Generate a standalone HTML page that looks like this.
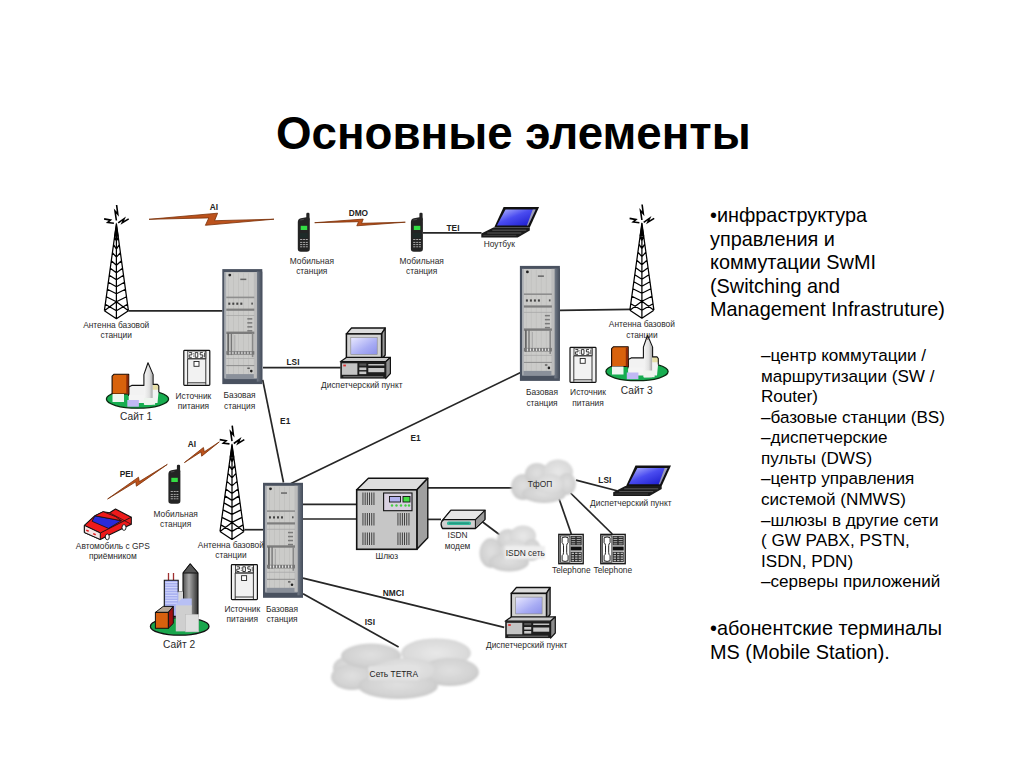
<!DOCTYPE html>
<html><head><meta charset="utf-8">
<style>
html,body{margin:0;padding:0;background:#fff;}
body{width:1024px;height:768px;position:relative;overflow:hidden;font-family:"Liberation Sans",sans-serif;color:#000;}
#title{position:absolute;left:276px;top:108px;font-size:45.7px;font-weight:bold;white-space:nowrap;line-height:52px;}
.t{position:absolute;white-space:nowrap;}
.b1{left:710px;font-size:19.85px;line-height:23.6px;}
.b2{left:761px;font-size:17.1px;line-height:20.56px;}
svg{position:absolute;left:0;top:0;}
svg text{font-family:"Liberation Sans",sans-serif;}
.lb{font-size:8.4px;fill:#2a2a2a;text-anchor:middle;}
.bl{font-size:8.3px;font-weight:bold;fill:#222;text-anchor:middle;}
.ln{stroke:#1e1e1e;stroke-width:1.6;fill:none;}
</style></head><body>
<div id="title">Основные элементы</div>
<div class="t b1" style="top:204px">•инфраструктура<br>управления и<br>коммутации SwMI<br>(Switching and<br>Management Infrastruture)</div>
<div class="t b2" style="top:346px">–центр коммутации /<br>маршрутизации (SW /<br>Router)<br>–базовые станции (BS)<br>–диспетчерские<br>пульты (DWS)<br>–центр управления<br>системой (NMWS)<br>–шлюзы в другие сети<br>( GW PABX, PSTN,<br>ISDN, PDN)<br>–серверы приложений</div>
<div class="t b1" style="top:617px">•абонентские терминалы<br>MS (Mobile Station).</div>
<svg width="1024" height="768" viewBox="0 0 1024 768">
<defs>
<linearGradient id="gBlue" x1="0" y1="0" x2="1" y2="1">
  <stop offset="0" stop-color="#b8bcff"/><stop offset="0.45" stop-color="#4a4cf0"/><stop offset="1" stop-color="#1515c8"/>
</linearGradient>
<linearGradient id="gScr" x1="0" y1="0" x2="1" y2="1">
  <stop offset="0" stop-color="#e8e8ff"/><stop offset="0.6" stop-color="#a8acf4"/><stop offset="1" stop-color="#8c90ea"/>
</linearGradient>
<linearGradient id="gSpire" x1="0" y1="0" x2="1" y2="0">
  <stop offset="0" stop-color="#f4f4f4"/><stop offset="0.6" stop-color="#e0e0e0"/><stop offset="1" stop-color="#a8a8a8"/>
</linearGradient>
<linearGradient id="gDark" x1="0" y1="0" x2="1" y2="0">
  <stop offset="0" stop-color="#505050"/><stop offset="0.4" stop-color="#a8a8a8"/><stop offset="1" stop-color="#303030"/>
</linearGradient>
<linearGradient id="gRackR" x1="0" y1="0" x2="1" y2="0">
  <stop offset="0" stop-color="#747c88"/><stop offset="1" stop-color="#444c5a"/>
</linearGradient>
<radialGradient id="gCloud" cx="0.45" cy="0.35" r="0.7">
  <stop offset="0" stop-color="#ececec"/><stop offset="0.6" stop-color="#cfcfcf"/><stop offset="1" stop-color="#b4b4b4"/>
</radialGradient>
<radialGradient id="gC1" cx="0.5" cy="0.45" r="0.55">
  <stop offset="0" stop-color="#e0e0e0"/><stop offset="0.75" stop-color="#d2d2d2"/><stop offset="1" stop-color="#c8c8c8"/>
</radialGradient>
<radialGradient id="gC2" cx="0.5" cy="0.5" r="0.55">
  <stop offset="0" stop-color="#e8e8e8"/><stop offset="0.8" stop-color="#dadada"/><stop offset="1" stop-color="#d0d0d0"/>
</radialGradient>
<filter id="blur1" x="-10%" y="-10%" width="120%" height="120%"><feGaussianBlur stdDeviation="1.1"/></filter>
<filter id="blur05" x="-10%" y="-10%" width="120%" height="120%"><feGaussianBlur stdDeviation="0.45"/></filter>
<g id="tower"><path d="M0,-1.5 L-2.4,13 L2.4,13 Z" fill="#000"/><path d="M0,0 L-12,87 M0,0 L12,87 M0,0 L0,95 M-12,87 L0,95 L12,87 M-1.79,13 L0,17.5 L1.79,13 M-2.90,21 L0,25.5 L2.90,21 M-4.00,29 L0,33.5 L4.00,29 M-5.10,37 L0,41.5 L5.10,37 M-6.14,44.5 L0,49.0 L6.14,44.5 M-7.10,51.5 L0,56.0 L7.10,51.5 M-8.07,58.5 L0,63.0 L8.07,58.5 M-9.03,65.5 L0,70.0 L9.03,65.5 M-10.07,73 L0,78 L12,87 M10.07,73 L0,78 L-12,87 M-11.10,80.5 L0,87 L11.10,80.5 " stroke="#000" stroke-width="1.25" fill="none" stroke-linejoin="round"/><path d="M0.2,-18.7 L1.4,-9.5 L-1.4,-12.7 L0,-3.2 M-12.3,-4.8 L-5.9,-3.6 L-8.7,-1.2 L-2.5,-0.5 M1.8,-0.9 L7.7,-5 L5.9,-0.9 L12.3,-4.8" stroke="#000" stroke-width="1.6" fill="none" stroke-linejoin="miter"/></g>
<g id="rack"><rect x="0" y="0" width="40" height="115" fill="#4a5260"/><rect x="34.5" y="2.5" width="5.5" height="110" fill="url(#gRackR)"/><rect x="2.2" y="3" width="32.3" height="106" fill="#cbcbc9"/><rect x="6" y="4" width="0.6" height="104" fill="#bdbdbb"/><rect x="11" y="4" width="0.6" height="104" fill="#bdbdbb"/><rect x="16" y="4" width="0.6" height="104" fill="#bdbdbb"/><rect x="21" y="4" width="0.6" height="104" fill="#bdbdbb"/><rect x="26" y="4" width="0.6" height="104" fill="#bdbdbb"/><rect x="2.2" y="105" width="32.3" height="5" fill="#8a909a"/><rect x="2.2" y="3" width="1.6" height="106" fill="#a8acb2"/><rect x="31.5" y="3" width="3" height="106" fill="#bcbcbc"/><circle cx="7.5" cy="6" r="1.4" fill="#222"/><rect x="18" y="9.5" width="6" height="1.5" fill="#666"/><rect x="4" y="27.5" width="28" height="1.6" fill="#8e8e8e"/><rect x="6" y="33.5" width="2" height="2.2" fill="#444"/><rect x="10" y="33.5" width="2" height="2.2" fill="#444"/><rect x="14" y="33.5" width="2" height="2.2" fill="#444"/><rect x="18" y="33.5" width="2" height="2.2" fill="#444"/><rect x="29" y="33.5" width="1.6" height="2" fill="#555"/><rect x="4" y="39.5" width="28" height="2.2" fill="#7e7e7e"/><rect x="4" y="46" width="28" height="0.8" fill="#a8a8a8"/><rect x="25" y="49" width="5" height="1.5" fill="#7a7a7a"/><rect x="25" y="53" width="5" height="1.5" fill="#7a7a7a"/><rect x="25" y="57" width="5" height="1.5" fill="#7a7a7a"/><rect x="25" y="61" width="5" height="1.5" fill="#7a7a7a"/><rect x="4" y="62.5" width="28" height="2.4" fill="#7c7c7c"/><rect x="5" y="64" width="1.8" height="22" fill="#666"/><rect x="8.4" y="64" width="1.4" height="22" fill="#777"/><rect x="12" y="66" width="1" height="16" fill="#aaa"/><rect x="29.5" y="64" width="1.6" height="24" fill="#888"/><rect x="4" y="82" width="28" height="3.6" fill="#777"/><rect x="7" y="82.6" width="1.2" height="2.4" fill="#e4e4e4"/><rect x="10" y="82.6" width="1.2" height="2.4" fill="#e4e4e4"/><rect x="13" y="82.6" width="1.2" height="2.4" fill="#e4e4e4"/><rect x="16" y="82.6" width="1.2" height="2.4" fill="#e4e4e4"/><rect x="19" y="82.6" width="1.2" height="2.4" fill="#e4e4e4"/><rect x="22" y="82.6" width="1.2" height="2.4" fill="#e4e4e4"/><rect x="25" y="82.6" width="1.2" height="2.4" fill="#e4e4e4"/><rect x="28" y="82.6" width="1.2" height="2.4" fill="#e4e4e4"/><rect x="4" y="89" width="28" height="0.8" fill="#aaa"/><rect x="4" y="96" width="28" height="1" fill="#8c8c8c"/><circle cx="29" cy="102" r="1.3" fill="#222"/><rect x="25" y="98.5" width="2.5" height="1.2" fill="#444"/></g>
<g id="psu"><rect x="0.6" y="0.6" width="26" height="35" fill="#f2f2f2" stroke="#111" stroke-width="1.2" rx="0.8"/><path d="M4.4,9 L4.4,35 M22.6,0.6 L22.6,35 M4.4,33 L22.6,33" stroke="#222" stroke-width="0.9" fill="none"/><rect x="4.6" y="1.2" width="18" height="7.6" fill="#fff" stroke="#222" stroke-width="0.8"/><path d="M6,2.8 h2.6 v2.3 h-2.6 v2.4 h2.6 M12,2.8 h2.6 v4.7 h-2.6 z M19.6,2.8 h-2.6 v2.3 h2.6 v2.4 h-2.6" stroke="#222" stroke-width="0.9" fill="none"/><rect x="10" y="3.6" width="0.9" height="0.9" fill="#222"/><rect x="10" y="5.8" width="0.9" height="0.9" fill="#222"/><rect x="21" y="2.8" width="0.8" height="4.7" fill="#333"/><path d="M4.4,9.2 L22.6,9.2" stroke="#444" stroke-width="1"/><rect x="10.8" y="11.7" width="5" height="4.8" fill="#fff" stroke="#222" stroke-width="0.9"/></g>
<g id="phone"><rect x="8.5" y="-4.3" width="3.2" height="8" rx="1.2" fill="#222"/><path d="M0,5 Q0,2 3,1.2 L10,0 Q12,0 12,3 L12,32 Q12,34.8 9,34.8 L3,34.8 Q0,34.8 0,32 Z" fill="#242424"/><path d="M2.5,3 L6,2.4" stroke="#555" stroke-width="0.8"/><rect x="2.9" y="8.8" width="6.5" height="4.2" fill="#33dd44"/><rect x="2" y="16" width="8" height="5" fill="#1e2a28"/><path d="M2.3,22.5 h2.2 M5.3,22.5 h2 M8,22.5 h2" stroke="#b8b8b8" stroke-width="0.9"/><path d="M2.3,25.4 h2.2 M5.3,25.4 h2 M8,25.4 h2" stroke="#b8b8b8" stroke-width="0.9"/><path d="M2.3,27.6 h2.2 M5.3,27.6 h2 M8,27.6 h2" stroke="#b8b8b8" stroke-width="0.9"/><path d="M2.3,29.8 h2.2 M5.3,29.8 h2 M8,29.8 h2" stroke="#b8b8b8" stroke-width="0.9"/></g>
<g id="laptop"><path d="M22.3,0 L57.8,0 L48.5,20.4 L12.9,20.4 Z" fill="#111"/><path d="M24.2,2.4 L54.3,2.4 L46.8,18.6 L15.6,18.6 Z" fill="url(#gBlue)"/><path d="M51.5,2.4 L54.3,2.4 L46.8,18.6 L45.6,18.6 Z" fill="#c8c8a0" opacity="0.7"/><path d="M12.1,20.4 L48.5,20.4 L48.5,23.5 L36.4,30.5 L0,30.5 L0,26.6 Z" fill="#1a1a1a"/><path d="M11,23.2 L45,23.2 M6,26 L40,26" stroke="#777" stroke-width="0.7"/><path d="M2,28.4 L35,28.4" stroke="#555" stroke-width="0.6"/></g>
<g id="comp"><path d="M6.1,5.9 L11.2,0 L44.9,0 L41.3,5.9 Z" fill="#dcdcdc" stroke="#111" stroke-width="1.3" stroke-linejoin="round"/><path d="M41.3,5.9 L44.9,0 L44.9,27 L41.3,31.5 Z" fill="#9a9a9a" stroke="#111" stroke-width="1.3" stroke-linejoin="round"/><rect x="6.1" y="5.9" width="35.2" height="25.6" fill="#d2d2d2" stroke="#111" stroke-width="1.5"/><rect x="10.5" y="9.6" width="26.4" height="16.8" fill="url(#gScr)" stroke="#888" stroke-width="0.6"/><path d="M0,33.7 L6.1,29.4 L50.1,29.4 L45.4,33.7 Z" fill="#c8c8c8" stroke="#111" stroke-width="1.2" stroke-linejoin="round"/><path d="M45.4,33.7 L50.1,29.4 L50.1,45.5 L45.4,50.6 Z" fill="#8c8c8c" stroke="#111" stroke-width="1.2" stroke-linejoin="round"/><rect x="0" y="33.7" width="45.4" height="16.9" fill="#1e1e1e"/><rect x="1.6" y="35.3" width="15.5" height="11.5" fill="#c4c4c4"/><rect x="3" y="36.6" width="2.6" height="1.8" fill="#e03030"/><rect x="19" y="35.5" width="7" height="2.2" fill="#555"/><rect x="19" y="39.5" width="7" height="2.6" fill="#c8c8c8"/><rect x="19" y="43.5" width="7" height="2.6" fill="#c8c8c8"/><rect x="28" y="36" width="16" height="1.5" fill="#c0c0c0"/><rect x="28" y="40" width="16" height="4.2" fill="#c8c8c8"/><rect x="3" y="48.2" width="40" height="1" fill="#777"/></g>
<g id="site"><ellipse cx="0" cy="-0.9" rx="31.1" ry="9.1" fill="#17ad50" stroke="#0a2a10" stroke-width="1.3"/><path d="M-8.8,-13 L-5.8,-14.6 L6.4,-14.6 L6.4,-25.4 L15.6,-25.4 L15.6,-15.6 L20,-15.6 L21.3,-14 L21.3,-10.2 L20,3 L-8.8,3 Z" fill="#f2f2f2"/><path d="M15.3,-15.6 L20,-15.6 L21.3,-14 L21.3,-10.2 L15.3,-10.2 Z" fill="#e6dea6"/><path d="M6.9,-25 L10.5,-36 L15.1,-25 L15.1,5 L6.9,5 Z" fill="url(#gSpire)"/><path d="M-8.8,-4 L-8.8,-13 L-5.8,-14.6 L6.4,-14.6 L6.4,-25.4 L10.5,-37.3 L15.6,-25.4 L15.6,-15.6 L20,-15.6 L21.3,-14 L21.3,-8" fill="none" stroke="#111" stroke-width="1.1" stroke-linejoin="round"/><path d="M-25.4,-6 L-25.4,-23.8 L-23.4,-25.8 L-8.8,-25.8 L-8.8,-6 Z" fill="#d8620c" stroke="#1a0a00" stroke-width="1.1" stroke-linejoin="round"/><rect x="-11.2" y="-25" width="2.2" height="19" fill="#8c2a08"/><rect x="-25" y="-6" width="11.5" height="8" fill="#eef6f0"/><rect x="-8.5" y="-5" width="15" height="5" fill="#f4f4f4"/><rect x="-10.2" y="0" width="11.6" height="6.7" fill="#c0b8f4"/><rect x="6.4" y="-2" width="11.2" height="6.7" fill="#eef4ee"/></g>
</defs>
<polyline points="128.5,310.8 222.5,310.8" fill="none" stroke="#262626" stroke-width="1.7"/>
<polyline points="263,367.6 340.5,367.6" fill="none" stroke="#262626" stroke-width="1.7"/>
<polyline points="262.7,379.8 283.5,482.5" fill="none" stroke="#262626" stroke-width="1.7"/>
<polyline points="291,483.5 523.7,371" fill="none" stroke="#262626" stroke-width="1.7"/>
<polyline points="560,310.4 630.5,309.4" fill="none" stroke="#262626" stroke-width="1.7"/>
<polyline points="423,232.8 481.5,232.8" fill="none" stroke="#262626" stroke-width="1.7"/>
<polyline points="244.5,529.7 263.5,529.7" fill="none" stroke="#262626" stroke-width="1.7"/>
<polyline points="303,504.3 357,504.3" fill="none" stroke="#262626" stroke-width="1.7"/>
<polyline points="303,519 357,519" fill="none" stroke="#262626" stroke-width="1.7"/>
<polyline points="428,487.8 515,487.8" fill="none" stroke="#262626" stroke-width="1.7"/>
<polyline points="428,519.4 441,519.4" fill="none" stroke="#262626" stroke-width="1.7"/>
<polyline points="480,520 500,535" fill="none" stroke="#262626" stroke-width="1.7"/>
<polyline points="303,578.2 504.2,627.3" fill="none" stroke="#262626" stroke-width="1.7"/>
<polyline points="303,593.8 398.6,647.1" fill="none" stroke="#262626" stroke-width="1.7"/>
<polyline points="576,480.1 617,490.8" fill="none" stroke="#262626" stroke-width="1.7"/>
<polyline points="559,498.6 571.3,534" fill="none" stroke="#262626" stroke-width="1.7"/>
<polyline points="570.5,493 612.3,534" fill="none" stroke="#262626" stroke-width="1.7"/>
<use href="#tower" x="116.4" y="223.7"/>
<use href="#tower" x="641.9" y="223.2"/>
<use href="#tower" x="232" y="444.4"/>
<use href="#rack" x="222.3" y="269.1"/>
<use href="#rack" x="519.9" y="265.9"/>
<use href="#rack" x="263" y="482.8"/>
<use href="#psu" x="183.2" y="349.8"/>
<use href="#psu" x="569.4" y="346.8"/>
<use href="#psu" x="230.8" y="564"/>
<use href="#phone" x="297.8" y="217"/>
<use href="#phone" x="410.9" y="217"/>
<use href="#phone" x="168.4" y="469"/>
<use href="#laptop" x="481.3" y="207"/>
<use href="#laptop" x="613.2" y="465.6"/>
<use href="#comp" x="340.3" y="328"/>
<use href="#comp" x="505.2" y="587.5"/>
<use href="#site" x="137.5" y="400"/>
<use href="#site" x="637" y="372.5"/>
<polygon points="149.0,219.3 217.6,213.2 214.6,220.7 274.0,219.2 205.4,225.3 208.8,217.9" fill="#bc521c" stroke="#7a3008" stroke-width="0.8" stroke-linejoin="round"/>
<polygon points="314.7,222.7 363.2,219.1 361.6,223.3 405.3,222.2 356.8,225.8 358.6,221.7" fill="#bc521c" stroke="#7a3008" stroke-width="0.8" stroke-linejoin="round"/>
<polygon points="107.6,499.0 138.5,477.2 139.3,481.6 167.3,464.4 136.4,486.2 135.8,481.8" fill="#bc521c" stroke="#7a3008" stroke-width="0.8" stroke-linejoin="round"/>
<polygon points="184.4,462.6 203.4,447.5 204.3,451.8 219.3,441.9 201.7,456.2 201.0,451.9" fill="#bc521c" stroke="#7a3008" stroke-width="0.8" stroke-linejoin="round"/>
<text class="lb" x="116.2" y="328.0">Антенна базовой</text>
<text class="lb" x="116.2" y="338.2">станции</text>
<text class="lb" x="641.9" y="327.4">Антенна базовой</text>
<text class="lb" x="641.9" y="337.6">станции</text>
<text class="lb" x="230.9" y="547.7">Антенна базовой</text>
<text class="lb" x="230.9" y="557.9">станции</text>
<text class="lb" x="311.8" y="263.9">Мобильная</text>
<text class="lb" x="311.8" y="274.1">станция</text>
<text class="lb" x="421.7" y="264.0">Мобильная</text>
<text class="lb" x="421.7" y="274.2">станция</text>
<text class="lb" x="175.7" y="516.8">Мобильная</text>
<text class="lb" x="175.7" y="527.0">станция</text>
<text class="lb" x="499.3" y="247.1">Ноутбук</text>
<text class="lb" x="239.6" y="398.4">Базовая</text>
<text class="lb" x="239.6" y="408.6">станция</text>
<text class="lb" x="542" y="395.3">Базовая</text>
<text class="lb" x="542" y="405.5">станция</text>
<text class="lb" x="282" y="612.0">Базовая</text>
<text class="lb" x="282" y="622.2">станция</text>
<text class="lb" x="193.4" y="398.6">Источник</text>
<text class="lb" x="193.4" y="408.8">питания</text>
<text class="lb" x="588" y="395.4">Источник</text>
<text class="lb" x="588" y="405.6">питания</text>
<text class="lb" x="242.3" y="612.2">Источник</text>
<text class="lb" x="242.3" y="622.4">питания</text>
<text class="lb" x="361.8" y="388.2">Диспетчерский пункт</text>
<text class="lb" x="630.8" y="505.5">Диспетчерский пункт</text>
<text class="lb" x="526.7" y="647.5">Диспетчерский пункт</text>
<text class="lb" x="112.8" y="548.7">Автомобиль с GPS</text>
<text class="lb" x="112.8" y="558.9">приёмником</text>
<text class="lb" x="136.1" y="420.2" style="font-size:10.2px">Сайт 1</text>
<text class="lb" x="636.8" y="393.8" style="font-size:10.2px">Сайт 3</text>
<text class="lb" x="179.1" y="647.7" style="font-size:10.2px">Сайт 2</text>
<text class="lb" x="386.8" y="558.5">Шлюз</text>
<text class="lb" x="457.6" y="537.6">ISDN</text>
<text class="lb" x="457.6" y="548.6">модем</text>
<text class="lb" x="571.3" y="573.3">Telephone</text>
<text class="lb" x="612.8" y="573.3">Telephone</text>
<text class="bl" x="214" y="209.8">AI</text>
<text class="bl" x="358.4" y="215.5">DMO</text>
<text class="bl" x="453" y="230.8">TEI</text>
<text class="bl" x="293" y="364.5">LSI</text>
<text class="bl" x="285.2" y="423.8">E1</text>
<text class="bl" x="415.6" y="441.4">E1</text>
<text class="bl" x="126.4" y="477.0">PEI</text>
<text class="bl" x="192" y="447.4">AI</text>
<text class="bl" x="604.8" y="482.7">LSI</text>
<text class="bl" x="393.4" y="596.0">NMCI</text>
<text class="bl" x="369.9" y="625.3">ISI</text>
<g filter="url(#blur1)">
<ellipse cx="523" cy="487" rx="12" ry="13" fill="url(#gC1)"/>
<ellipse cx="537" cy="474" rx="12" ry="11" fill="url(#gC1)"/>
<ellipse cx="558" cy="472" rx="15" ry="12.5" fill="url(#gC2)"/>
<ellipse cx="567" cy="484" rx="9" ry="11" fill="url(#gC1)"/>
<ellipse cx="544" cy="494" rx="22" ry="9" fill="url(#gC1)"/>
<ellipse cx="550" cy="484" rx="14" ry="10" fill="url(#gC2)"/>
</g>
<g filter="url(#blur1)">
<ellipse cx="491" cy="553" rx="11.5" ry="15" fill="url(#gC1)"/>
<ellipse cx="508" cy="539" rx="11" ry="10" fill="url(#gC1)"/>
<ellipse cx="523" cy="536" rx="13" ry="10.5" fill="url(#gC2)"/>
<ellipse cx="532" cy="550" rx="9" ry="11" fill="url(#gC1)"/>
<ellipse cx="509" cy="562" rx="20" ry="9.5" fill="url(#gC1)"/>
<ellipse cx="515" cy="550" rx="14" ry="10" fill="url(#gC2)"/>
</g>
<g filter="url(#blur1)">
<ellipse cx="347" cy="668" rx="14" ry="11" fill="url(#gC1)"/>
<ellipse cx="352" cy="677" rx="21" ry="13" fill="url(#gC1)"/>
<ellipse cx="371" cy="656" rx="30" ry="12.5" fill="url(#gC1)"/>
<ellipse cx="436" cy="653" rx="35" ry="14.5" fill="url(#gC2)"/>
<ellipse cx="450" cy="672" rx="29" ry="14" fill="url(#gC1)"/>
<ellipse cx="398" cy="686" rx="40" ry="13" fill="url(#gC1)"/>
<ellipse cx="405" cy="670" rx="32" ry="12" fill="url(#gC2)"/>
</g>
<path d="M356.7,489.8 L368.4,478.2 L427.8,478.2 L416.9,489.8 Z" fill="#dedede" stroke="#111" stroke-width="1.4" stroke-linejoin="round"/>
<path d="M416.9,489.8 L427.8,478.2 L427.8,537.7 L416.9,549.3 Z" fill="#a0a0a0" stroke="#111" stroke-width="1.4" stroke-linejoin="round"/>
<rect x="356.7" y="489.8" width="60.2" height="59.5" fill="#c6c6c6" stroke="#111" stroke-width="1.6"/>
<rect x="362.5" y="492.5" width="0.9" height="12.5" fill="#333"/>
<rect x="364.7" y="492.5" width="0.9" height="12.5" fill="#333"/>
<rect x="366.9" y="492.5" width="0.9" height="12.5" fill="#333"/>
<rect x="369.1" y="492.5" width="0.9" height="12.5" fill="#333"/>
<rect x="371.3" y="492.5" width="0.9" height="12.5" fill="#333"/>
<rect x="373.5" y="492.5" width="0.9" height="12.5" fill="#333"/>
<rect x="362.5" y="513" width="0.9" height="12.5" fill="#333"/>
<rect x="364.7" y="513" width="0.9" height="12.5" fill="#333"/>
<rect x="366.9" y="513" width="0.9" height="12.5" fill="#333"/>
<rect x="369.1" y="513" width="0.9" height="12.5" fill="#333"/>
<rect x="371.3" y="513" width="0.9" height="12.5" fill="#333"/>
<rect x="373.5" y="513" width="0.9" height="12.5" fill="#333"/>
<rect x="362.5" y="532.5" width="0.9" height="12.5" fill="#333"/>
<rect x="364.7" y="532.5" width="0.9" height="12.5" fill="#333"/>
<rect x="366.9" y="532.5" width="0.9" height="12.5" fill="#333"/>
<rect x="369.1" y="532.5" width="0.9" height="12.5" fill="#333"/>
<rect x="371.3" y="532.5" width="0.9" height="12.5" fill="#333"/>
<rect x="373.5" y="532.5" width="0.9" height="12.5" fill="#333"/>
<rect x="397.5" y="513" width="0.9" height="12.5" fill="#333"/>
<rect x="399.7" y="513" width="0.9" height="12.5" fill="#333"/>
<rect x="401.9" y="513" width="0.9" height="12.5" fill="#333"/>
<rect x="404.1" y="513" width="0.9" height="12.5" fill="#333"/>
<rect x="406.3" y="513" width="0.9" height="12.5" fill="#333"/>
<rect x="408.5" y="513" width="0.9" height="12.5" fill="#333"/>
<rect x="397.5" y="532.5" width="0.9" height="12.5" fill="#333"/>
<rect x="399.7" y="532.5" width="0.9" height="12.5" fill="#333"/>
<rect x="401.9" y="532.5" width="0.9" height="12.5" fill="#333"/>
<rect x="404.1" y="532.5" width="0.9" height="12.5" fill="#333"/>
<rect x="406.3" y="532.5" width="0.9" height="12.5" fill="#333"/>
<rect x="408.5" y="532.5" width="0.9" height="12.5" fill="#333"/>
<rect x="383.6" y="493" width="28.4" height="17.7" fill="#d8d0e0" stroke="#111" stroke-width="1.1"/>
<rect x="389.5" y="496.5" width="11" height="5.5" fill="#b0b0ee" stroke="#111" stroke-width="0.9"/>
<rect x="403" y="496.5" width="7" height="5.5" fill="#44dd44" stroke="#111" stroke-width="0.9"/>
<circle cx="392.0" cy="505.5" r="1.2" fill="#44cc44"/>
<circle cx="396.5" cy="505.5" r="1.2" fill="#44cc44"/>
<circle cx="401.0" cy="505.5" r="1.2" fill="#44cc44"/>
<circle cx="405.5" cy="505.5" r="1.2" fill="#44cc44"/>
<circle cx="409" cy="505.5" r="1.2" fill="#44cc44"/>
<path d="M442.5,528.5 L475.4,528.5 L484.9,519.6 L484.9,510.3 L450.8,510.3 L442,521 Q440,524 442.5,528.5 Z" fill="#d0d0d0" stroke="#111" stroke-width="1.3" stroke-linejoin="round"/>
<path d="M475.4,528.5 L484.9,519.6 L484.9,510.3 L475.4,519.6 Z" fill="#999" stroke="#111" stroke-width="1"/>
<path d="M442,521 L450.8,510.3 L484.9,510.3 L475.4,519.6 L444,519.6 Z" fill="#e6e6e6" stroke="#111" stroke-width="1.1"/>
<rect x="447" y="521.5" width="24" height="3.5" rx="1.5" fill="#2fb89a"/>
<path d="M449,523.2 h20" stroke="#1a7a66" stroke-width="0.7"/>
<rect x="558.1" y="533.7" width="25.8" height="30.7" fill="#1c1c1c"/>
<rect x="559.5" y="535.1" width="23" height="27.9" fill="#f0f0f0"/>
<rect x="560.3000000000001" y="535.9000000000001" width="9.6" height="26.3" fill="#fff" stroke="#222" stroke-width="0.9"/>
<path d="M562.1,537.7 Q565.1,536.2 568.1,537.7 L568.1,542.7 Q566.7,543.7 566.7,545.7 L566.7,552.7 Q566.7,554.7 568.1,555.7 L568.1,560.7 Q565.1,562.2 562.1,560.7 L562.1,555.7 Q563.5,554.7 563.5,552.7 L563.5,545.7 Q563.5,543.7 562.1,542.7 Z" fill="#fff" stroke="#222" stroke-width="1"/>
<rect x="570.7" y="535.9000000000001" width="11" height="9.5" fill="#2a2a2a"/>
<path d="M571.5,537.3000000000001 h3.8 M576.7,537.3000000000001 h4" stroke="#aaa" stroke-width="1"/>
<path d="M571.5,539.5000000000001 h3.8 M576.7,539.5000000000001 h4" stroke="#aaa" stroke-width="1"/>
<path d="M571.5,541.7 h3.8 M576.7,541.7 h4" stroke="#aaa" stroke-width="1"/>
<path d="M571.5,543.9000000000001 h3.8 M576.7,543.9000000000001 h4" stroke="#aaa" stroke-width="1"/>
<rect x="570.7" y="546.5" width="11" height="4" fill="#111"/>
<rect x="570.7" y="551.7" width="11" height="10.5" fill="#2a2a2a"/>
<rect x="571.6" y="552.7" width="2.4" height="1.3" fill="#bbb"/>
<rect x="575.1" y="552.7" width="2.4" height="1.3" fill="#bbb"/>
<rect x="578.6" y="552.7" width="2.4" height="1.3" fill="#bbb"/>
<rect x="571.6" y="555.1" width="2.4" height="1.3" fill="#bbb"/>
<rect x="575.1" y="555.1" width="2.4" height="1.3" fill="#bbb"/>
<rect x="578.6" y="555.1" width="2.4" height="1.3" fill="#bbb"/>
<rect x="571.6" y="557.5" width="2.4" height="1.3" fill="#bbb"/>
<rect x="575.1" y="557.5" width="2.4" height="1.3" fill="#bbb"/>
<rect x="578.6" y="557.5" width="2.4" height="1.3" fill="#bbb"/>
<rect x="571.6" y="559.9" width="2.4" height="1.3" fill="#bbb"/>
<rect x="575.1" y="559.9" width="2.4" height="1.3" fill="#bbb"/>
<rect x="578.6" y="559.9" width="2.4" height="1.3" fill="#bbb"/>
<rect x="600.1" y="533.7" width="25.8" height="30.7" fill="#1c1c1c"/>
<rect x="601.5" y="535.1" width="23" height="27.9" fill="#f0f0f0"/>
<rect x="602.3000000000001" y="535.9000000000001" width="9.6" height="26.3" fill="#fff" stroke="#222" stroke-width="0.9"/>
<path d="M604.1,537.7 Q607.1,536.2 610.1,537.7 L610.1,542.7 Q608.7,543.7 608.7,545.7 L608.7,552.7 Q608.7,554.7 610.1,555.7 L610.1,560.7 Q607.1,562.2 604.1,560.7 L604.1,555.7 Q605.5,554.7 605.5,552.7 L605.5,545.7 Q605.5,543.7 604.1,542.7 Z" fill="#fff" stroke="#222" stroke-width="1"/>
<rect x="612.7" y="535.9000000000001" width="11" height="9.5" fill="#2a2a2a"/>
<path d="M613.5,537.3000000000001 h3.8 M618.7,537.3000000000001 h4" stroke="#aaa" stroke-width="1"/>
<path d="M613.5,539.5000000000001 h3.8 M618.7,539.5000000000001 h4" stroke="#aaa" stroke-width="1"/>
<path d="M613.5,541.7 h3.8 M618.7,541.7 h4" stroke="#aaa" stroke-width="1"/>
<path d="M613.5,543.9000000000001 h3.8 M618.7,543.9000000000001 h4" stroke="#aaa" stroke-width="1"/>
<rect x="612.7" y="546.5" width="11" height="4" fill="#111"/>
<rect x="612.7" y="551.7" width="11" height="10.5" fill="#2a2a2a"/>
<rect x="613.6" y="552.7" width="2.4" height="1.3" fill="#bbb"/>
<rect x="617.1" y="552.7" width="2.4" height="1.3" fill="#bbb"/>
<rect x="620.6" y="552.7" width="2.4" height="1.3" fill="#bbb"/>
<rect x="613.6" y="555.1" width="2.4" height="1.3" fill="#bbb"/>
<rect x="617.1" y="555.1" width="2.4" height="1.3" fill="#bbb"/>
<rect x="620.6" y="555.1" width="2.4" height="1.3" fill="#bbb"/>
<rect x="613.6" y="557.5" width="2.4" height="1.3" fill="#bbb"/>
<rect x="617.1" y="557.5" width="2.4" height="1.3" fill="#bbb"/>
<rect x="620.6" y="557.5" width="2.4" height="1.3" fill="#bbb"/>
<rect x="613.6" y="559.9" width="2.4" height="1.3" fill="#bbb"/>
<rect x="617.1" y="559.9" width="2.4" height="1.3" fill="#bbb"/>
<rect x="620.6" y="559.9" width="2.4" height="1.3" fill="#bbb"/>
<ellipse cx="179.7" cy="626.4" rx="29.3" ry="8.8" fill="#19a64c" stroke="#111" stroke-width="1.3"/>
<polygon points="183.0,616.4 183.0,573.0 190.2,563.9 198.0,573.0 198.0,616.4" fill="url(#gDark)" stroke="#111" stroke-width="1.1" stroke-linejoin="round"/>
<polygon points="183.0,573.0 190.2,563.9 198.0,573.0" fill="#555" stroke="#111" stroke-width="1"/>
<path d="M168.5,580.4 v-7.5 M173.5,580.4 v-7.5" stroke="#a03030" stroke-width="1.3"/>
<polygon points="164.3,580.3 178.2,580.3 178.2,591.7 183.1,591.7 183.1,616.4 164.3,616.4" fill="#a8b0f0" stroke="#111" stroke-width="1.1"/>
<path d="M165.29999999999998,582.4 h12" stroke="#e0e4ff" stroke-width="0.8"/>
<path d="M165.29999999999998,585.0 h12" stroke="#e0e4ff" stroke-width="0.8"/>
<path d="M165.29999999999998,587.6 h12" stroke="#e0e4ff" stroke-width="0.8"/>
<path d="M165.29999999999998,590.2 h12" stroke="#e0e4ff" stroke-width="0.8"/>
<path d="M165.29999999999998,592.8 h12" stroke="#e0e4ff" stroke-width="0.8"/>
<path d="M165.29999999999998,595.4 h12" stroke="#e0e4ff" stroke-width="0.8"/>
<path d="M165.29999999999998,598.0 h12" stroke="#e0e4ff" stroke-width="0.8"/>
<path d="M165.29999999999998,600.6 h12" stroke="#e0e4ff" stroke-width="0.8"/>
<path d="M165.29999999999998,603.2 h12" stroke="#e0e4ff" stroke-width="0.8"/>
<rect x="178.39999999999998" y="591.4" width="4.6" height="20" fill="#d8d8d8"/>
<polygon points="175.7,604.4 181.7,598.4 191.7,598.4 191.7,606.4 175.7,606.4" fill="#b8c0f4"/>
<rect x="175.79999999999998" y="605.4" width="16" height="26" fill="#cfcfcf"/>
<rect x="185.7" y="614.4" width="13" height="17.5" fill="#dedede" stroke="#bbb" stroke-width="0.5"/>
<polygon points="155.4,612.4 163.2,606.4 173.3,606.4 168.3,612.4" fill="#b8a898" stroke="#111" stroke-width="1"/>
<polygon points="168.3,612.4 173.3,606.4 173.3,623.4 168.3,628.3" fill="#a01010" stroke="#111" stroke-width="1"/>
<rect x="155.39999999999998" y="612.4" width="12.9" height="15.9" fill="#d8600e" stroke="#111" stroke-width="1"/>
<polygon points="84.4,525.4 94.4,516.1 103.2,511.7 109.6,512.8 115.5,509.0 131.3,517.2 131.3,524.3 109.6,534.8 100.3,539.5 84.4,532.5" fill="#ee1a1a" stroke="#111" stroke-width="1.1" stroke-linejoin="round"/>
<polygon points="92.1,521.3 95.0,515.8 121.4,520.7 108.5,528.4" fill="#2a2ad8" stroke="#111" stroke-width="0.8"/>
<polygon points="95.0,515.8 103.2,511.7 115.5,516.6 121.4,520.7" fill="#ee1a1a" stroke="#111" stroke-width="0.8"/>
<polyline points="84.4,525.4 100.3,533.0 131.3,517.2" fill="none" stroke="#111" stroke-width="0.9"/>
<polyline points="109.6,512.8 131.3,524.3" fill="none" stroke="#111" stroke-width="0.7"/>
<polygon points="84.4,525.4 100.3,533.0 100.3,539.5 84.4,532.5" fill="#f4e4e4" stroke="#111" stroke-width="1"/>
<path d="M86.2,530.1 l2.5,1.2 M93.2,533.6 l2.5,1.2" stroke="#e02020" stroke-width="1.6"/>
<ellipse cx="107.3" cy="536.9" rx="2" ry="2.9" fill="#fff" stroke="#111" stroke-width="0.9"/>
<ellipse cx="124.0" cy="527.5" rx="2" ry="2.9" fill="#fff" stroke="#111" stroke-width="0.9"/>
<text class="lb" x="539.9" y="487.3">ТфОП</text>
<rect x="505" y="546" width="40" height="13" fill="#eeeeee" filter="url(#blur1)"/>
<text class="lb" x="525.3" y="556.1">ISDN сеть</text>
<rect x="369" y="666" width="50" height="14" fill="#e2e2e2" filter="url(#blur1)"/>
<text class="lb" x="393.8" y="676.5" style="fill:#1a1a1a">Сеть TETRA</text>
</svg>
</body></html>
